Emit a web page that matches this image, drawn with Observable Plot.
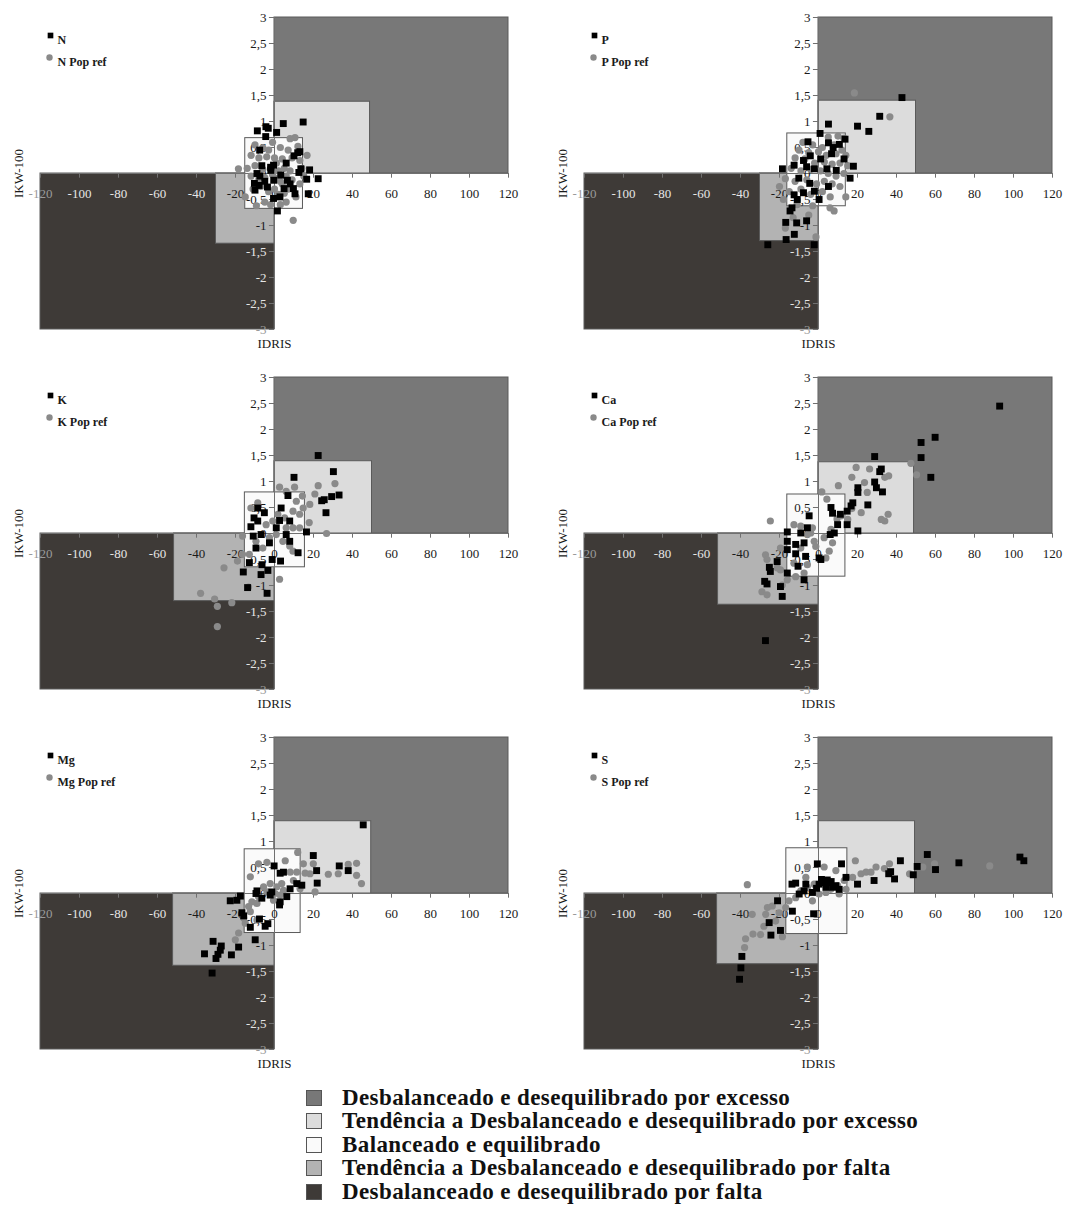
<!DOCTYPE html>
<html>
<head>
<meta charset="utf-8">
<script src="https://cdn.jsdelivr.net/npm/d3@7"></script>
<script src="https://cdn.jsdelivr.net/npm/@observablehq/plot@0.6"></script>
<style>
  body { margin: 0; background: #fff; font-family: "Liberation Serif", "Times New Roman", serif; }
  #grid { display: grid; grid-template-columns: 544px 544px; grid-auto-rows: 360px; width: 1088px; }
  #legend { margin-left: 306px; margin-top: 6px; }
  .row { display: flex; align-items: center; height: 23.5px; font-weight: bold; font-size: 23px; color: #111; letter-spacing: 0.4px; white-space: nowrap; }
  .sw { width: 14px; height: 14px; border: 1px solid #555; margin-right: 20px; flex: none; }
</style>
</head>
<body>
<div id="grid"></div>
<div id="legend"></div>
<script>
// Nutrients, one panel each
const nutrients = ["N", "P", "K", "Ca", "Mg", "S"];

// Axis ticks
const xTicks = [-120, -100, -80, -60, -40, -20, 0, 20, 40, 60, 80, 100, 120];
const yTicks = [3, 2.5, 2, 1.5, 1, 0.5, 0, -0.5, -1, -1.5, -2, -2.5, -3];

// Zone limits per nutrient (same order as nutrients)
const balXMin = [-15, -16, -15.2, -16, -15.3, -16.5];
const balXMax = [14.6, 14, 15.6, 13.8, 13.4, 14.8];
const balYMin = [-0.68, -0.63, -0.65, -0.83, -0.76, -0.78];
const balYMax = [0.68, 0.77, 0.79, 0.75, 0.85, 0.87];
const excXMax = [49, 50, 50, 49, 49.6, 49.5];
const excYMax = [1.38, 1.4, 1.39, 1.37, 1.39, 1.39];
const defXMin = [-30, -30, -51.5, -51.5, -52, -52];
const defYMin = [-1.35, -1.3, -1.3, -1.37, -1.39, -1.36];

// Zone classes and fills
const zoneNames = [
  "Desbalanceado e desequilibrado por excesso",
  "Tendência a Desbalanceado e desequilibrado por excesso",
  "Balanceado e equilibrado",
  "Tendência a Desbalanceado e desequilibrado por falta",
  "Desbalanceado e desequilibrado por falta"
];
const zoneColors = ["#787878", "#dcdcdc", "#fafafa", "#b3b3b3", "#3e3a37"];

// Sampled plots: [IDRIS, IKW-100]
const N_obs = [[-8.8,0.82],[-4.4,0.9],[4.5,0.96],[14.7,0.99],[1.1,0.79],[-3.2,0.87],[-4.5,0.71],[-7.6,0.45],[13,0.42],[11.9,0.4],[10,0.34],[-6.5,0.15],[-2,0.12],[-0.5,0.16],[-9,0.0],[-1.9,0.06],[12.5,0.02],[13.5,0.09],[18,0.07],[16.5,-0.11],[22.4,-0.1],[3.2,-0.03],[6.6,-0.13],[-0.4,-0.13],[-10.3,-0.19],[-3.6,-0.26],[4.9,-0.29],[9.7,-0.29],[-10,-0.32],[10.5,-0.39],[17.3,-0.39],[-0.5,-0.48],[2.8,-0.45],[1.5,-0.72],[-5,-0.15],[8,-0.2],[-7.5,-0.05],[6,0.2],[-7.9,-0.23]];
const N_ref = [[10.5,0.69],[8,0.67],[-1,0.6],[-10,0.55],[-6,0.5],[-3,0.45],[3,0.5],[7,0.45],[12,0.52],[16.7,0.35],[-12,0.35],[-8,0.3],[-4,0.32],[0,0.3],[4,0.28],[9,0.3],[13,0.25],[-18.5,0.09],[-14,0.1],[-10,0.15],[-6,0.08],[-2,0.1],[2,0.05],[5,0.1],[8,0.05],[14,0.1],[-12,-0.05],[-8,-0.1],[-5,-0.08],[-1,-0.02],[1,-0.1],[3,-0.15],[6,-0.05],[9,-0.12],[13,-0.2],[15,-0.05],[-11,-0.3],[-7,-0.25],[-3,-0.35],[0,-0.3],[2,-0.4],[5,-0.38],[7,-0.3],[11,-0.45],[-9.3,-0.62],[-5,-0.55],[-2,-0.6],[3,-0.6],[6,-0.55],[9.6,-0.9],[-15,-0.45],[-1,0.0],[1,0.2],[4,-0.2]];

const P_obs = [[42.8,1.46],[31.4,1.1],[20,0.91],[25.8,0.81],[5.1,0.95],[0.8,0.77],[-5.4,0.61],[5.1,0.59],[7.5,0.5],[10.7,0.56],[13.6,0.66],[-4.2,0.34],[1.1,0.28],[-7.7,0.25],[6.7,0.38],[13.1,0.28],[17.9,0.14],[-18.5,0.09],[-12.5,0.16],[-6.1,0.13],[-2.1,0.09],[4.3,0.09],[9.1,0.06],[16.2,-0.09],[-10.1,-0.09],[-4.5,-0.19],[5.1,-0.25],[-7.7,-0.37],[-12.5,-0.41],[-10.9,-0.5],[-2.1,-0.34],[0.3,-0.5],[-13.6,-0.66],[-14.6,-0.72],[-16.8,-0.94],[-11.2,-0.95],[-6.1,-0.91],[-12.4,-1.17],[-16.6,-1.27],[-26,-1.37],[-2.2,-1.37]];
const P_ref = [[36.6,1.09],[18.4,1.55],[5,0.7],[10,0.72],[13,0.68],[-8,0.6],[-3,0.55],[2,0.5],[8,0.55],[12,0.45],[-10,0.45],[-5,0.4],[0,0.42],[4,0.35],[9,0.38],[14,0.35],[-12,0.3],[-7,0.28],[-2,0.2],[3,0.22],[7,0.18],[11,0.2],[15,0.15],[-14,0.1],[-9,0.05],[-4,0.08],[1,0.05],[5,0.0],[9,-0.05],[13,0.0],[-17,-0.1],[-12,-0.15],[-6,-0.12],[-1,-0.2],[3,-0.15],[7,-0.2],[11,-0.25],[-15,-0.35],[-9,-0.3],[-4,-0.4],[2,-0.35],[6,-0.45],[-18,-0.5],[-11,-0.6],[-3,-0.62],[5.9,-0.66],[8,-0.72],[-13,-0.85],[-5,-0.8],[-17,-1.05],[-1.3,-1.22],[14,-0.45],[-20,-0.25]];

const K_obs = [[22.4,1.5],[30.2,1.19],[10,1.08],[33.1,0.74],[29.3,0.71],[25.5,0.65],[24.2,0.63],[26.4,0.4],[6.9,0.73],[16.4,0.03],[12.1,-0.37],[7.8,0.24],[3.4,0.49],[-8.6,0.49],[-8.6,0.24],[-12.1,0.13],[-10.9,-0.05],[-6.9,-0.02],[-5.2,0.4],[0.9,0.11],[-2.6,-0.18],[-9.5,-0.28],[-12.9,-0.56],[-6.4,-0.6],[-6.9,-0.79],[-3.4,-0.71],[-1.2,-0.5],[3.1,-0.53],[-16,-0.74],[-13.8,-1.04],[-3.8,-1.15],[2.6,0.25],[6,-0.02],[7.8,-0.15],[-10.5,0.3]];
const K_ref = [[-37.9,-1.15],[-30.7,-1.26],[-21.9,-1.33],[-29.3,-1.4],[-29.3,-1.79],[-25.9,-0.66],[-13.3,-1.03],[2.6,-0.88],[-19,-0.53],[-16.4,-0.4],[2.6,0.89],[6,0.81],[10.3,0.89],[22.4,0.92],[31,0.96],[20.7,0.76],[18.1,0.56],[14.3,0.72],[17.8,0.21],[26.7,0.0],[11.2,0.62],[9.5,0.43],[12.9,0.37],[14.7,0.49],[5.2,0.3],[1.7,0.37],[-8.6,0.59],[-12.1,0.49],[-4.3,0.17],[-0.9,0.24],[9.5,0.11],[12.9,0.11],[-2.6,-0.08],[4.3,-0.15],[7.8,-0.24],[9.5,-0.34],[-6,-0.28],[-9.5,-0.15],[-16.4,-0.05],[-12.9,-0.4],[0.9,-0.02],[6,0.11]];

const Ca_obs = [[92.9,2.45],[59.8,1.85],[52.6,1.75],[52.6,1.46],[28.8,1.48],[57.6,1.08],[32.2,1.24],[31.4,1.19],[28.8,0.99],[29.7,0.88],[32.8,0.8],[20.2,0.88],[20.2,0.79],[17.6,0.59],[16.7,0.53],[14.7,0.43],[25.3,0.55],[20.2,0.05],[14.7,0.17],[11.2,0.37],[9.8,0.17],[6.4,0.5],[7.2,0.39],[8.1,0.01],[6,-0.02],[0.3,-0.47],[1.2,-0.5],[-4.8,0.34],[-5.7,0.11],[-9.1,0.01],[-16,0.03],[-16,-0.15],[-11.7,-0.21],[-7.4,-0.18],[-11.7,-0.39],[-6.6,-0.44],[-21.2,-0.54],[-25.2,-0.65],[-24.7,-0.73],[-16,-0.76],[-10.5,-0.63],[-7.4,-0.89],[-27.6,-0.92],[-26.4,-0.97],[-19.5,-1.02],[-18.6,-1.21],[-27.2,-2.06],[-16,-0.31]];
const Ca_ref = [[-24.7,0.24],[1.7,0.8],[4.3,0.66],[10.2,0.92],[17.1,1.08],[19.3,1.27],[26.2,1.24],[23.6,0.98],[25,0.79],[21.9,0.4],[34,1.08],[36,1.11],[47.4,1.35],[50.3,1.13],[34,0.24],[35.7,0.37],[17.1,0.48],[15,0.27],[11.6,0.34],[9.5,0.28],[6.4,0.08],[7.2,-0.18],[5.5,-0.34],[3.8,-0.47],[-2.2,-0.15],[-4,0.01],[-3.1,0.11],[-5.7,-0.02],[-9.1,0.14],[-12.6,0.17],[-19.5,-0.28],[-27.2,-0.41],[-26.4,-0.5],[-21.2,-0.66],[-19.5,-0.7],[-12.6,-0.57],[-16,-0.89],[-18.6,-0.99],[-11.7,-0.83],[-7.4,-0.76],[-5.7,-0.6],[-29,-1.12],[-26.4,-1.18],[-9.1,-0.28],[-1.4,-0.25],[2.9,-0.08],[32.2,0.27]];

const Mg_obs = [[45.5,1.32],[19.9,0.73],[33.2,0.53],[37.8,0.44],[21.6,0.44],[21.9,0.2],[-0.2,0.53],[2.9,0.39],[4.6,0.41],[11.4,0.19],[14,0.16],[8,0.09],[6.3,-0.06],[2.9,-0.16],[2.6,-0.22],[-1.4,0.03],[-2.2,-0.03],[-9,0.05],[-9.5,0],[-6.5,-0.09],[-17.5,-0.05],[-19.3,-0.13],[-22.7,-0.14],[-16.7,-0.37],[-15.8,-0.43],[-12.4,-0.65],[-4.8,-0.63],[-7.7,-0.49],[-18.4,-1.03],[-22.1,-1.18],[-27.3,-1.01],[-27.8,-1.09],[-29,-1.17],[-30,-1.25],[-31.5,-0.92],[-35.9,-1.16],[-32,-1.53],[-9.9,-0.89],[-3.4,-0.58]];
const Mg_ref = [[11.9,0.79],[5.5,0.63],[-3.9,0.6],[-8.2,0.57],[-12.4,0.32],[8,0.41],[11.4,0.41],[14.8,0.57],[15.7,0.39],[18.2,0.38],[19.9,0.57],[27.6,0.37],[32.7,0.38],[37.8,0.56],[42.1,0.58],[42.1,0.35],[44.6,0.19],[20.8,0.03],[13.1,0.09],[9.7,0.25],[3.7,0.19],[1.2,0.13],[-2.2,0.19],[-5.6,0.13],[-3.9,0.03],[-8.2,-0.06],[-11.6,-0.16],[-13.3,-0.25],[-15.8,-0.47],[-15,-0.57],[-18.4,-0.76],[-20.1,-0.89],[0.3,0],[2.9,-0.03],[4.6,0.06],[-0.5,-0.13],[-9,-0.19],[-12.4,-0.35],[-9,-0.51]];

const S_obs = [[103.3,0.7],[105.3,0.63],[55.8,0.75],[72,0.59],[60,0.46],[50.6,0.52],[48.6,0.36],[42,0.63],[39,0.28],[36,0.38],[37,0.42],[28.5,0.25],[20,0.18],[11.8,0.57],[-0.6,0.57],[14.1,0.31],[8.9,0.15],[5.5,0.21],[2.9,0.21],[0.3,0.18],[-3.1,0.02],[-7.4,0.05],[-11.7,0.2],[-13.6,0.18],[-9.9,-0.01],[-13.4,-0.34],[-2.5,-0.39],[-21,-0.14],[-25.3,-0.56],[-24.4,-0.8],[-19.5,-0.71],[-39.3,-1.21],[-39.8,-1.43],[-40.5,-1.65],[3.8,0.12],[7.2,0.12],[10.6,0.08],[-6.5,0.18],[1.5,0.27],[4.5,0.26],[6.5,0.23],[-1,0.1]];
const S_ref = [[-36.5,0.17],[-37.9,-1.04],[-37.4,-0.87],[-33.6,-0.78],[-29.7,-0.79],[-34,-0.4],[-27.1,-0.4],[-26.2,-0.27],[-23.7,-0.24],[-28,-0.63],[-22,-0.53],[-18.5,-0.83],[-20.2,-0.37],[-16.8,-0.27],[-15.1,-0.14],[-11.7,-0.08],[-9.1,0.05],[-5.7,0.12],[-5.7,0.51],[-1.4,-0.4],[-3.1,-0.14],[0.3,-0.01],[3.8,0.02],[6.3,0.08],[9.8,0.15],[13.2,0.25],[17.5,0.31],[18.9,0.63],[21.8,0.38],[24.4,0.41],[29.5,0.51],[26.9,0.41],[33.8,0.48],[36.4,0.57],[46.7,0.38],[53.5,0.51],[59.5,0.57],[87.8,0.53],[2.9,0.51],[8.9,0.44],[-6.5,0.31],[-2.2,0.18],[10.6,-0.01],[14.1,0.08]];

const observed = [N_obs, P_obs, K_obs, Ca_obs, Mg_obs, S_obs];
const popRef = [N_ref, P_ref, K_ref, Ca_ref, Mg_ref, S_ref];

const refSuffix = " Pop ref";
const xTitle = "IDRIS";
const yTitle = "IKW-100";

const fmt = d => String(d).replace(".", ",");
const onDark = "#e6e6e6";
const onEdge = "#9a9a9a";
const ink = "#1a1a1a";

function panel(i) {
  const name = nutrients[i];
  const xMin = xTicks[0], xMax = xTicks[xTicks.length - 1];
  const yMax = yTicks[0], yMin = yTicks[yTicks.length - 1];
  // zones drawn back to front: outer zones, tendency zones, balanced box
  const zones = [
    {x1: 0, x2: xMax, y1: 0, y2: yMax, fill: zoneColors[0]},
    {x1: xMin, x2: 0, y1: yMin, y2: 0, fill: zoneColors[4]},
    {x1: 0, x2: excXMax[i], y1: 0, y2: excYMax[i], fill: zoneColors[1]},
    {x1: defXMin[i], x2: 0, y1: defYMin[i], y2: 0, fill: zoneColors[3]},
    {x1: balXMin[i], x2: balXMax[i], y1: balYMin[i], y2: balYMax[i], fill: zoneColors[2]}
  ];
  // tick label colour: light over the dark deficit zone, mid grey on its edge
  const xLabelFill = d => d === xMin ? onEdge : d < defXMin[i] ? onDark : ink;
  const yLabelFill = d => d === yMin ? onEdge : d < defYMin[i] ? onDark : ink;
  return Plot.plot({
    width: 544, height: 360,
    marginLeft: 40, marginRight: 36, marginTop: 17, marginBottom: 31,
    x: {domain: [xMin, xMax], axis: null},
    y: {domain: [yMin, yMax], axis: null},
    color: {type: "identity"},
    style: {fontFamily: "'Liberation Serif', 'Times New Roman', serif", background: "transparent", overflow: "visible"},
    marks: [
      Plot.rect(zones, {x1: "x1", x2: "x2", y1: "y1", y2: "y2", fill: "fill", stroke: "#5a5a5a", strokeWidth: 1}),
      Plot.ruleY([0], {x1: xMin, x2: xMax, stroke: "#707070"}),
      Plot.ruleX([0], {y1: yMin, y2: yMax, stroke: "#707070"}),
      Plot.ruleX(xTicks, {x: d => d, y1: 0, y2: -0.09, stroke: "#707070"}),
      Plot.ruleY(yTicks, {y: d => d, x1: 0, x2: -2.6, stroke: "#707070"}),
      Plot.text(xTicks, {x: d => d, y: 0, dy: 20, text: fmt, fontSize: 13, fill: xLabelFill}),
      Plot.text(yTicks, {x: 0, y: d => d, dx: -8, text: fmt, textAnchor: "end", fontSize: 13, fill: yLabelFill}),
      Plot.dot(popRef[i], {x: d => d[0], y: d => d[1], r: 3.6, fill: "#8a8a8a"}),
      Plot.dot(observed[i], {x: d => d[0], y: d => d[1], symbol: "square", r: 3.9, fill: "#000"}),
      // series key
      Plot.dot([name], {frameAnchor: "top-left", dx: 10, dy: 18, symbol: "square", r: 3.2, fill: "#000"}),
      Plot.dot([name + refSuffix], {frameAnchor: "top-left", dx: 9, dy: 40, r: 3.2, fill: "#8a8a8a"}),
      Plot.text([name], {frameAnchor: "top-left", dx: 17, dy: 18, textAnchor: "start", fontSize: 12, fontWeight: "bold", fill: ink}),
      Plot.text([name + refSuffix], {frameAnchor: "top-left", dx: 17, dy: 40, textAnchor: "start", fontSize: 12, fontWeight: "bold", fill: ink}),
      // axis titles
      Plot.text([yTitle], {x: xMin, y: 0, dx: -22, rotate: -90, fontSize: 13, fill: ink}),
      Plot.text([xTitle], {x: 0, y: yMin, dy: 14, fontSize: 13, fill: ink})
    ]
  });
}

const grid = document.getElementById("grid");
nutrients.forEach((_, i) => {
  const cell = document.createElement("div");
  cell.appendChild(panel(i));
  grid.appendChild(cell);
});

// zone key below the panels
const legend = document.getElementById("legend");
zoneNames.forEach((label, k) => {
  const row = document.createElement("div");
  row.className = "row";
  const sw = document.createElement("span");
  sw.className = "sw";
  sw.style.background = zoneColors[k];
  row.appendChild(sw);
  row.appendChild(document.createTextNode(label));
  legend.appendChild(row);
});
</script>
</body>
</html>
